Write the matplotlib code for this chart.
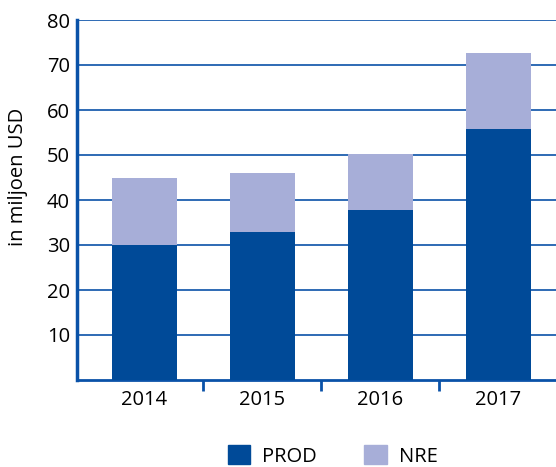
import numpy as np
import matplotlib.pyplot as plt
from matplotlib.patches import Patch

plt.rcParams['font.family'] = ['Open Sans', 'DejaVu Sans']

# data
jaren = ['2014', '2015', '2016', '2017']
prod = [30, 33, 37.8, 55.8]
nre = [15, 13, 12.4, 16.9]

kleur_prod = '#004a98'
kleur_nre = '#a7aed8'
kleur_as = '#0a52a8'

fig = plt.figure(figsize=(5.56, 4.67), dpi=100)
ax = fig.add_axes([77/556, 1 - 380/467, 1 - 77/556, 360/467])

x = np.arange(len(jaren))
ax.bar(x, prod, width=0.55, color=kleur_prod, zorder=3)
ax.bar(x, nre, width=0.55, bottom=prod, color=kleur_nre, zorder=3)

ax.set_ylim(0, 80)
ax.set_xlim(-0.57, 3.49)
ax.set_yticks(range(10, 81, 10))
ax.yaxis.grid(True, color=kleur_as, linewidth=1.2, zorder=1)
ax.tick_params(axis='y', length=0, labelsize=14.5, pad=5)

# jaartallen in het midden, streepjes tussen de staven
ax.set_xticks(x)
ax.set_xticklabels(jaren, fontsize=14.5)
ax.tick_params(axis='x', which='major', length=0, pad=7)
ax.set_xticks(x[:-1] + 0.5, minor=True)
ax.tick_params(axis='x', which='minor', length=8, width=2, color=kleur_as, direction='out')

for s in ['top', 'right']:
    ax.spines[s].set_visible(False)
ax.spines['left'].set_color(kleur_as)
ax.spines['left'].set_linewidth(2.5)
ax.spines['bottom'].set_color(kleur_as)
ax.spines['bottom'].set_linewidth(2)

ax.set_ylabel('in miljoen USD', fontsize=14.5)
ax.yaxis.set_label_coords(-49/479, 0.565)

handles = [Patch(color=kleur_prod, label='PROD'), Patch(color=kleur_nre, label='NRE')]
fig.legend(handles=handles, loc='upper left', bbox_to_anchor=(212/556, 1 - 429/467),
           ncol=2, frameon=False, fontsize=14.5, handlelength=1.1, handleheight=1.1,
           columnspacing=2.35, handletextpad=0.6, borderpad=0.3)

fig.savefig('out.png', dpi=100)
